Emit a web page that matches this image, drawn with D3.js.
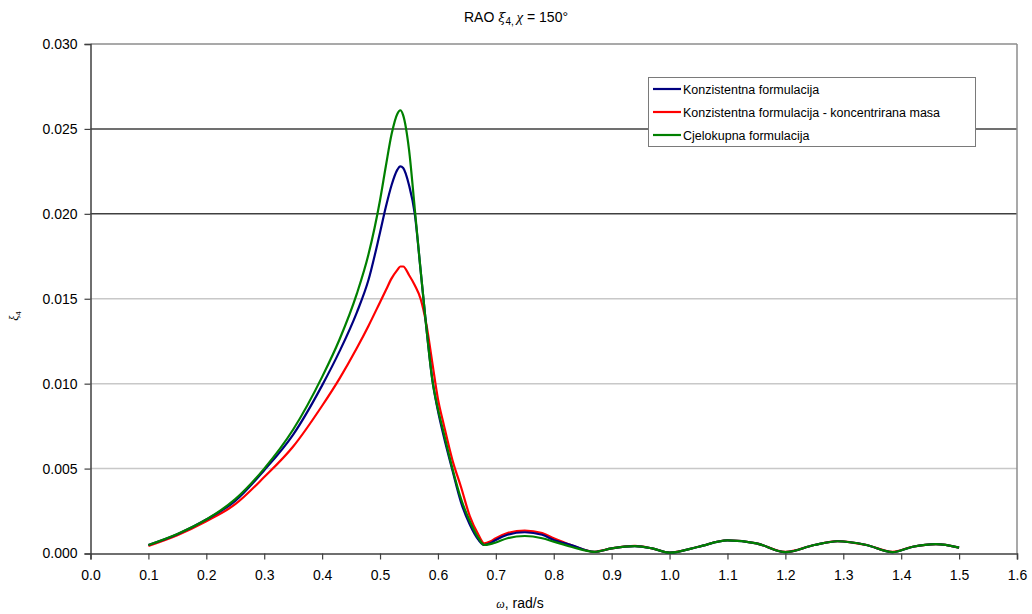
<!DOCTYPE html>
<html>
<head>
<meta charset="utf-8">
<script src="https://cdn.jsdelivr.net/npm/d3@7"></script>
<style>
  html, body { margin: 0; padding: 0; background: #fff; }
  svg { display: block; }
  text { font-family: "Liberation Sans", Arial, sans-serif; fill: #000; }
</style>
</head>
<body>
<svg id="chart" width="1032" height="614"></svg>
<script>
// ---- data ----
const omega = [0.10, 0.15, 0.20, 0.25, 0.30, 0.35, 0.40, 0.43, 0.46, 0.48, 0.50, 0.51, 0.52, 0.53, 0.535, 0.54, 0.55, 0.56, 0.57, 0.58, 0.59, 0.60, 0.61, 0.625, 0.64, 0.655, 0.67, 0.68, 0.69, 0.70, 0.72, 0.75, 0.78, 0.80, 0.83, 0.87, 0.90, 0.94, 0.97, 1.00, 1.05, 1.10, 1.15, 1.20, 1.25, 1.29, 1.34, 1.385, 1.42, 1.46, 1.50];

const konzistentna = [0.00050, 0.00113, 0.0020, 0.0031, 0.0049, 0.0070, 0.0099, 0.0119, 0.0142, 0.0161, 0.0189, 0.0204, 0.0217, 0.0226, 0.0228, 0.0227, 0.0217, 0.0200, 0.0167, 0.0133, 0.0103, 0.0084, 0.0069, 0.0049, 0.0030, 0.0017, 0.0008, 0.0005, 0.0006, 0.0008, 0.0011, 0.00125, 0.0011, 0.0008, 0.0005, 0.0001, 0.0003, 0.00043, 0.0003, 0.00005, 0.0004, 0.00077, 0.0006, 0.00008, 0.0005, 0.00072, 0.0005, 0.00008, 0.0004, 0.00055, 0.00035];

const koncentrirana = [0.00045, 0.00108, 0.0019, 0.0029, 0.0045, 0.0063, 0.0087, 0.0103, 0.0121, 0.0134, 0.0148, 0.0155, 0.0162, 0.0167, 0.0169, 0.0169, 0.0164, 0.0158, 0.0150, 0.0135, 0.0113, 0.0091, 0.0076, 0.0055, 0.0039, 0.0022, 0.0011, 0.0006, 0.0007, 0.0009, 0.0012, 0.00135, 0.0012, 0.0009, 0.0005, 0.0001, 0.0003, 0.00045, 0.0003, 0.00006, 0.0004, 0.00078, 0.0006, 0.00009, 0.0005, 0.00073, 0.0005, 0.0001, 0.0004, 0.00055, 0.00035];

const cjelokupna = [0.00050, 0.00115, 0.0020, 0.0032, 0.0050, 0.0073, 0.0104, 0.0126, 0.0153, 0.0176, 0.0208, 0.0228, 0.0247, 0.0259, 0.0261, 0.0258, 0.0238, 0.0203, 0.0167, 0.0133, 0.0103, 0.0085, 0.0071, 0.0050, 0.0032, 0.0019, 0.0009, 0.0005, 0.00055, 0.00065, 0.0009, 0.00103, 0.0009, 0.0007, 0.0004, 0.0001, 0.0003, 0.00043, 0.0003, 0.00005, 0.0004, 0.00077, 0.0006, 0.00008, 0.0005, 0.00072, 0.0005, 0.00008, 0.0004, 0.00055, 0.00035];

const seriesNames = ["Konzistentna formulacija", "Konzistentna formulacija - koncentrirana masa", "Cjelokupna formulacija"];
const seriesColors = ["#000080", "#ff0000", "#008000"];
const xTickValues = [0.0, 0.1, 0.2, 0.3, 0.4, 0.5, 0.6, 0.7, 0.8, 0.9, 1.0, 1.1, 1.2, 1.3, 1.4, 1.5, 1.6];
const yTickValues = [0.000, 0.005, 0.010, 0.015, 0.020, 0.025, 0.030];
const darkGridValues = [0.020, 0.025];

// ---- layout ----
const svg = d3.select("#chart");
const L = 90.5, R = 1017, T = 44, B = 553.5;

const x = d3.scaleLinear().domain([0, 1.6]).range([L, R]);
const y = d3.scaleLinear().domain([0, 0.030]).range([B, T]);

// gridlines
svg.append("g").selectAll("line")
  .data(yTickValues.filter(v => v > 0))
  .join("line")
  .attr("x1", L).attr("x2", R)
  .attr("y1", d => y(d)).attr("y2", d => y(d))
  .attr("stroke", d => d === 0.030 ? "#8c8c8c" : (darkGridValues.includes(d) ? "#404040" : "#c8c8c8"))
  .attr("stroke-width", 1.5);

// right border
svg.append("line")
  .attr("x1", R).attr("x2", R).attr("y1", T).attr("y2", B)
  .attr("stroke", "#8c8c8c").attr("stroke-width", 1.5);

// axes
const xAxis = d3.axisBottom(x).tickValues(xTickValues).tickFormat(d3.format(".1f")).tickSizeOuter(0).tickSize(6).tickPadding(11);
const yAxis = d3.axisLeft(y).tickValues(yTickValues).tickFormat(d3.format(".3f")).tickSizeOuter(0).tickSize(6).tickPadding(7);

const gx = svg.append("g").attr("transform", `translate(0,${B})`).call(xAxis);
const gy = svg.append("g").attr("transform", `translate(${L},0)`).call(yAxis);
[gx, gy].forEach(g => {
  g.select(".domain").attr("stroke", "#404040").attr("stroke-width", 1.5);
  g.selectAll(".tick line").attr("stroke", "#404040").attr("stroke-width", 1.2);
  g.selectAll("text").style("font-size", "14px").style("font-family", "'Liberation Sans', Arial, sans-serif").attr("fill", "#000");
});

// series lines
const line = d3.line()
  .x(d => x(d[0]))
  .y(d => y(d[1]))
  .curve(d3.curveMonotoneX);

const seriesData = [konzistentna, koncentrirana, cjelokupna];
const drawOrder = [1, 0, 2];
drawOrder.forEach(i => {
  svg.append("path")
    .datum(omega.map((w, k) => [w, seriesData[i][k]]))
    .attr("fill", "none")
    .attr("stroke", seriesColors[i])
    .attr("stroke-width", 2.2)
    .attr("stroke-linejoin", "round")
    .attr("d", line);
});

// legend
const lg = svg.append("g");
lg.append("rect")
  .attr("x", 648.5).attr("y", 77.5).attr("width", 327).attr("height", 69)
  .attr("fill", "#fff").attr("stroke", "#7a7a7a").attr("stroke-width", 1);
seriesNames.forEach((name, i) => {
  const yy = 89 + i * 23;
  lg.append("line").attr("x1", 653).attr("x2", 681).attr("y1", yy).attr("y2", yy)
    .attr("stroke", seriesColors[i]).attr("stroke-width", 2.2);
  lg.append("text").attr("x", 683).attr("y", yy + 4.5)
    .style("font-size", "12.5px").attr("fill", "#222").text(name);
});

// title
const title = svg.append("text").attr("x", 516).attr("y", 22).attr("text-anchor", "middle")
  .style("font-size", "14px");
title.append("tspan").text("RAO ");
title.append("tspan").style("font-family", "'DejaVu Serif', 'Liberation Serif', serif").style("font-style", "italic").style("font-size", "13px").text("ξ");
title.append("tspan").attr("dy", 3).style("font-size", "10px").text("4, ");
title.append("tspan").attr("dy", -3).style("font-family", "'Liberation Serif', serif").style("font-style", "italic").style("font-size", "15px").text("χ");
title.append("tspan").text(" = 150°");

// y-axis label
const yl = svg.append("text").attr("transform", "translate(18,316) rotate(-90)").attr("text-anchor", "middle")
  .style("font-size", "12px");
yl.append("tspan").style("font-family", "'Liberation Serif', serif").style("font-style", "italic").text("ξ");
yl.append("tspan").attr("dy", 3).style("font-size", "8px").text("4");

// x-axis label
const xl = svg.append("text").attr("x", 520).attr("y", 608).attr("text-anchor", "middle").style("font-size", "14px");
xl.append("tspan").style("font-family", "'Liberation Serif', serif").style("font-style", "italic").style("font-size", "12px").text("ω");
xl.append("tspan").text(", rad/s");
</script>
</body>
</html>
